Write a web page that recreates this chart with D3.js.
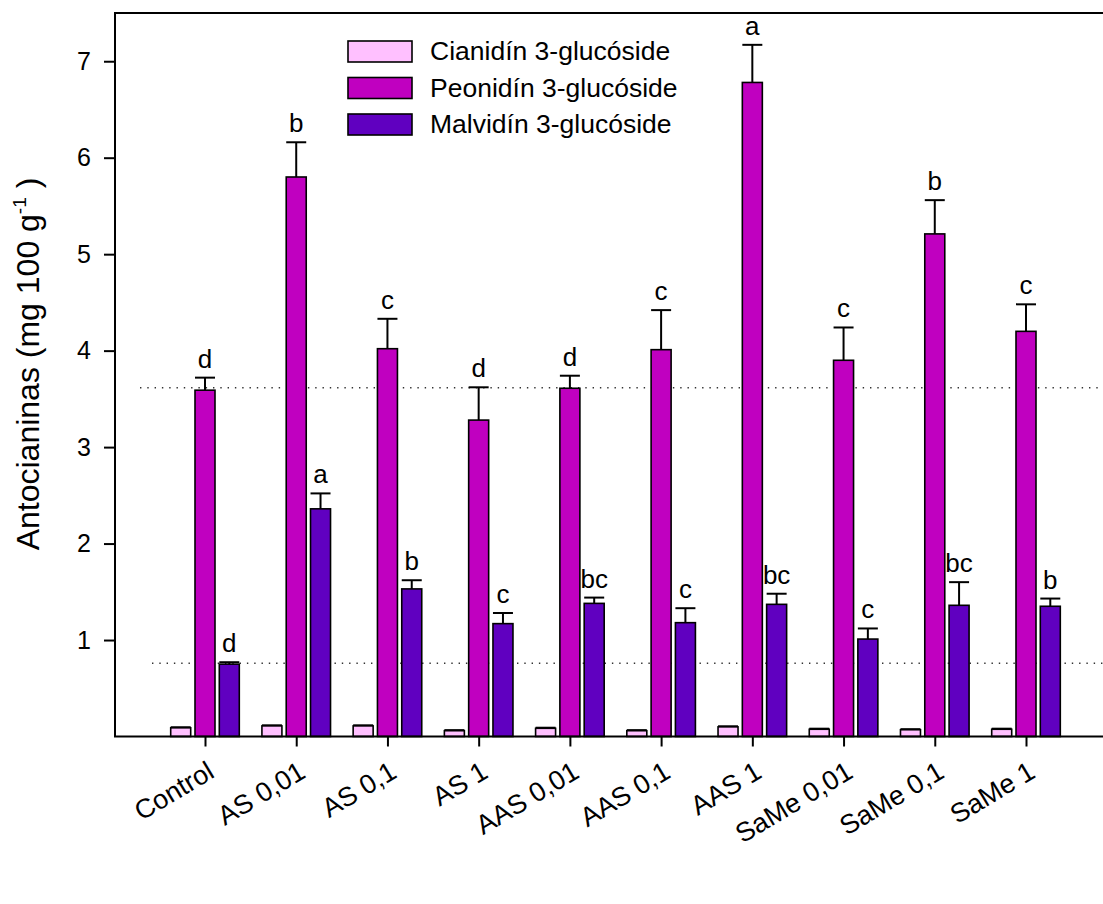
<!DOCTYPE html>
<html>
<head>
<meta charset="utf-8">
<script src="https://cdn.jsdelivr.net/npm/d3@7"></script>
<style>
  html, body { margin: 0; padding: 0; background: #fff; }
  svg { display: block; font-family: "Liberation Sans", Arial, sans-serif; }
</style>
</head>
<body>
<svg id="chart" width="1103" height="904"></svg>
<script>
const categories = ["Control","AS 0,01","AS 0,1","AS 1","AAS 0,01","AAS 0,1","AAS 1","SaMe 0,01","SaMe 0,1","SaMe 1"];
const seriesNames = ["Cianidín 3-glucóside","Peonidín 3-glucóside","Malvidín 3-glucóside"];
const cianidin    = [0.09, 0.11, 0.11, 0.06, 0.085, 0.06, 0.10, 0.075, 0.07, 0.075];
const cianidinErr = [0.006,0.006,0.006,0.006,0.006,0.006,0.006,0.006,0.006,0.006];
const peonidin    = [3.59, 5.80, 4.02, 3.28, 3.61, 4.01, 6.78, 3.90, 5.21, 4.20];
const peonidinErr = [0.13, 0.36, 0.31, 0.34, 0.13, 0.41, 0.39, 0.34, 0.35, 0.28];
const malvidin    = [0.75, 2.36, 1.53, 1.17, 1.38, 1.18, 1.37, 1.01, 1.36, 1.35];
const malvidinErr = [0.02, 0.16, 0.09, 0.11, 0.06, 0.15, 0.11, 0.11, 0.24, 0.08];
const peonidinLetters = ["d","b","c","d","d","c","a","c","b","c"];
const malvidinLetters = ["d","a","b","c","bc","c","bc","c","bc","b"];
const cianidinLetters = ["","","","","","","","","",""];
const refValues = [3.615, 0.76];
const yTicks = [1,2,3,4,5,6,7];
const colors = ["#ffc0ff","#c000c0","#6000c0"];

(function () {
const svg = d3.select("#chart");
const pl = 115, pt = 13, pr = 1110, pb = 736.5;

const y = d3.scaleLinear().domain([0, 7.5]).range([pb, pt]);
const x = d3.scalePoint().domain(categories).range([205, 1026]);
const xs = d3.scaleBand().domain(seriesNames).range([-34.3, 34.3]).paddingInner(0.177);

// reference dotted lines
const refStart = [140, 152];
svg.append("g").selectAll("line").data(refValues).join("line")
  .attr("x1", (d,i) => refStart[i]).attr("x2", pr)
  .attr("y1", d => y(d)).attr("y2", d => y(d))
  .attr("stroke", "#333").attr("stroke-width", 1.4).attr("stroke-dasharray", "1.4,5.9");

const series = [
  {name: seriesNames[0], vals: cianidin, errs: cianidinErr, letters: cianidinLetters, color: colors[0]},
  {name: seriesNames[1], vals: peonidin, errs: peonidinErr, letters: peonidinLetters, color: colors[1]},
  {name: seriesNames[2], vals: malvidin, errs: malvidinErr, letters: malvidinLetters, color: colors[2]}
];

const bw = xs.bandwidth();
series.forEach(s => {
  const g = svg.append("g");
  const data = categories.map((c, i) => ({c, v: s.vals[i], e: s.errs[i], l: s.letters[i]}));
  const bx = d => x(d.c) + xs(s.name);
  g.selectAll("line.err").data(data).join("line")
    .attr("x1", d => bx(d) + bw/2).attr("x2", d => bx(d) + bw/2)
    .attr("y1", d => y(d.v)).attr("y2", d => y(d.v + d.e))
    .attr("stroke", "#000").attr("stroke-width", 2);
  g.selectAll("line.cap").data(data).join("line")
    .attr("x1", d => bx(d)).attr("x2", d => bx(d) + bw)
    .attr("y1", d => y(d.v + d.e)).attr("y2", d => y(d.v + d.e))
    .attr("stroke", "#000").attr("stroke-width", 2);
  g.selectAll("rect").data(data).join("rect")
    .attr("x", d => bx(d)).attr("width", bw)
    .attr("y", d => y(d.v)).attr("height", d => y(0) - y(d.v))
    .attr("fill", s.color).attr("stroke", "#000").attr("stroke-width", 1.6);
  g.selectAll("text").data(data.filter(d => d.l)).join("text")
    .attr("x", d => bx(d) + bw/2).attr("y", d => y(d.v + d.e) - 10)
    .attr("text-anchor", "middle").attr("font-size", 26).attr("fill", "#000")
    .text(d => d.l);
});

// frame
svg.append("path")
  .attr("d", `M${pr},${pt}H${pl}V${pb}H${pr}`)
  .attr("fill", "none").attr("stroke", "#000").attr("stroke-width", 2);

// y axis
const yAxis = svg.append("g").attr("transform", `translate(${pl},0)`)
  .call(d3.axisLeft(y).tickValues(yTicks).tickSize(11).tickPadding(13).tickFormat(d3.format("d")));
yAxis.select(".domain").remove();
yAxis.selectAll(".tick line").attr("stroke-width", 2);
yAxis.selectAll(".tick text").attr("font-size", 25).attr("font-family", "Liberation Sans, Arial, sans-serif").attr("fill", "#000");

// x axis
const xAxis = svg.append("g").attr("transform", `translate(0,${pb})`)
  .call(d3.axisBottom(x).tickSize(10).tickFormat(""));
xAxis.select(".domain").remove();
xAxis.selectAll(".tick line").attr("stroke-width", 2);
svg.append("g").selectAll("text").data(categories).join("text")
  .attr("transform", d => `translate(${x(d) + 11},${pb + 40}) rotate(-31)`)
  .attr("text-anchor", "end").attr("font-size", 27).attr("fill", "#000")
  .text(d => d);

// y label
const yl = svg.append("text")
  .attr("transform", `translate(39,364) rotate(-90)`)
  .attr("text-anchor", "middle").attr("font-size", 32).attr("fill", "#000");
yl.append("tspan").text("Antocianinas (mg 100 g");
yl.append("tspan").attr("font-size", 19).attr("dy", -13).text("-1");
yl.append("tspan").attr("dy", 13).text(" )");

// legend
const lg = svg.append("g");
series.forEach((s, i) => {
  const ly = 41 + i * 36.5;
  lg.append("rect").attr("x", 348).attr("y", ly).attr("width", 64).attr("height", 21)
    .attr("fill", s.color).attr("stroke", "#000").attr("stroke-width", 1.6);
  lg.append("text").attr("x", 430).attr("y", ly + 19).attr("font-size", 26.5).attr("fill", "#000").text(s.name);
});
})();
</script>
</body>
</html>
